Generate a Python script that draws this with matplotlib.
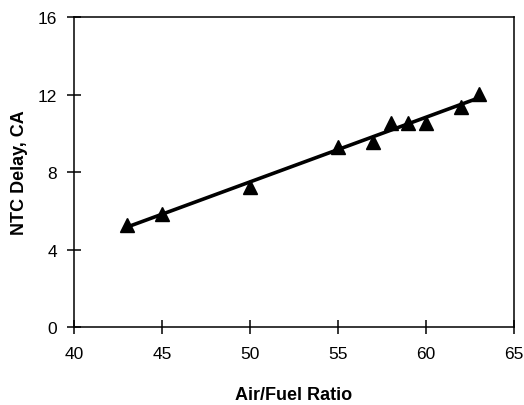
import numpy as np
import matplotlib
matplotlib.use("Agg")
import matplotlib.pyplot as plt

plt.rcParams['font.family'] = ['Liberation Sans', 'DejaVu Sans']

air_fuel = [43, 45, 50, 55, 57, 58, 59, 60, 62, 63]
ntc_delay = [5.25, 5.85, 7.25, 9.3, 9.55, 10.55, 10.55, 10.55, 11.35, 12.05]
x_ticks = [40, 45, 50, 55, 60, 65]
y_ticks = [0, 4, 8, 12, 16]

fig = plt.figure(figsize=(5.24, 4.06), dpi=100)
ax = fig.add_axes([0.1412, 0.192, 0.8398, 0.7637])

coef = np.polyfit(air_fuel, ntc_delay, 1)
xl = np.array([min(air_fuel), max(air_fuel)])
ax.plot(xl, np.polyval(coef, xl), color='black', lw=2.6, solid_capstyle='butt', zorder=2)
ax.plot(air_fuel, ntc_delay, linestyle='none', marker='^', color='black', markersize=9.5, zorder=3)

ax.set_xlim(40, 65)
ax.set_ylim(0, 16)
ax.set_xticks(x_ticks)
ax.set_yticks(y_ticks)
ax.tick_params(direction='inout', length=10, width=1.1, labelsize=12.5, pad=7)
ax.tick_params(axis='x', pad=9)
for s in ax.spines.values():
    s.set_linewidth(1.1)

ax.set_xlabel('Air/Fuel Ratio', fontsize=13, fontweight='bold', labelpad=18)
ax.set_ylabel('NTC Delay, CA', fontsize=13, fontweight='bold', labelpad=7)

fig.savefig('out.png', dpi=100)
